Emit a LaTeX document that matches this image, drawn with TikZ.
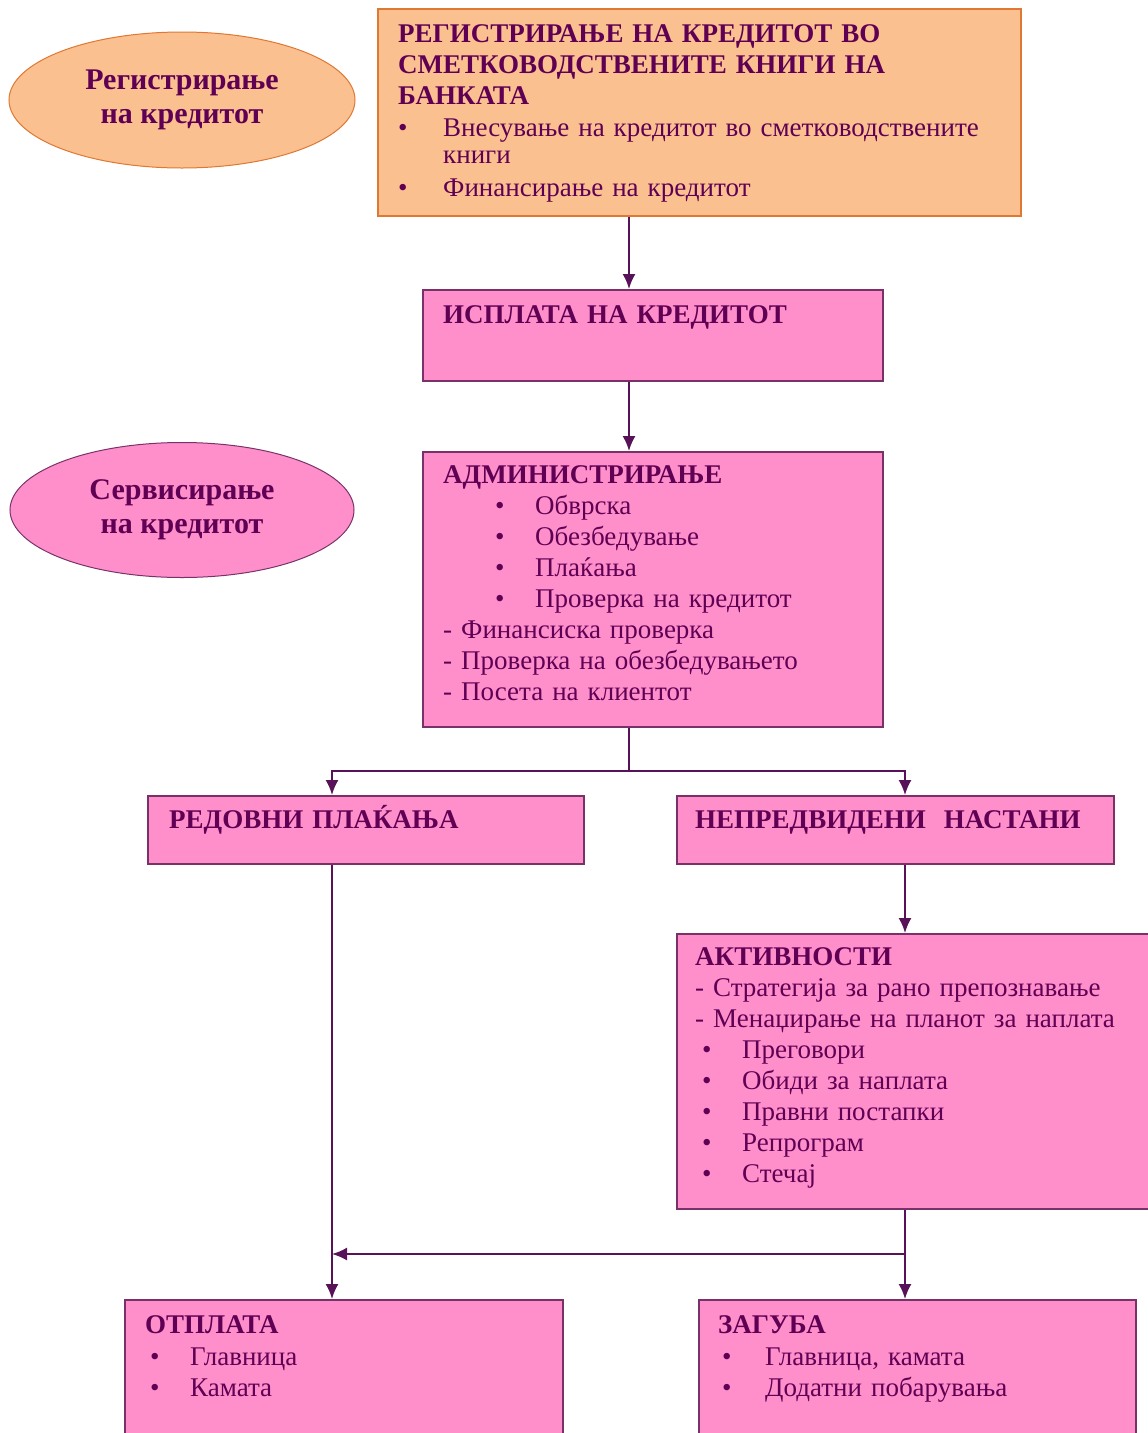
\documentclass[tikz,border=0pt]{standalone}
\usepackage{fontspec}
\setmainfont{Liberation Serif}
\usetikzlibrary{shapes.geometric,arrows.meta,positioning}

\definecolor{orangefill}{RGB}{250,192,143}
\definecolor{orangeline}{RGB}{222,120,50}
\definecolor{pinkfill}{RGB}{255,143,203}
\definecolor{boxline}{RGB}{120,50,105}
\definecolor{arrowcol}{RGB}{88,18,88}
\definecolor{ink}{RGB}{96,0,84}

\newcommand{\boxfont}{\fontsize{27}{31}\selectfont}
\newcommand{\ovalfont}{\fontsize{30}{34}\selectfont\bfseries}
\newcommand{\bitem}[3]{\hspace*{#1}\makebox[#2][l]{•}#3}

\begin{document}
\begin{tikzpicture}[
  x=1pt, y=1pt,
  box/.style={rectangle, draw=boxline, fill=pinkfill, line width=1.6pt, anchor=north west, inner sep=0pt},
  obox/.style={box, draw=orangeline, fill=orangefill},
  oval/.style={ellipse, draw=boxline, fill=pinkfill, line width=1pt, inner sep=0pt, align=center, text=ink, font=\ovalfont},
  txt/.style={anchor=base west, inner sep=0pt, text width=600pt, align=left, text=ink, font=\boxfont},
  arr/.style={draw=arrowcol, line width=1.9pt, -{Latex[length=15pt,width=13pt]}},
  link/.style={draw=arrowcol, line width=1.9pt}
]
\useasboundingbox (0,0) rectangle (1148,-1433);
\clip (0,0) rectangle (1148,-1433);

\coordinate (mid) at (629,0);
\coordinate (lcol) at (332,0);
\coordinate (rcol) at (905,0);

% ellipses on the left
\node[oval, draw=orangeline, fill=orangefill, minimum width=346pt, minimum height=136pt] (regoval) at (182,-100) {Регистрирање\\на кредитот};
\node[oval, minimum width=344pt, minimum height=135pt] (servoval) at (182,-510) {Сервисирање\\на кредитот};

% boxes
\node[obox, minimum width=643pt, minimum height=207pt] (reg) at (377,-8) {};
\node[box, minimum width=460pt, minimum height=91pt] (isp) at (422,-289) {};
\node[box, minimum width=460pt, minimum height=275pt] (adm) at (422,-451) {};
\node[box, minimum width=436pt, minimum height=68pt] (red) at (147,-795) {};
\node[box, minimum width=437pt, minimum height=68pt] (nep) at (676,-795) {};
\node[box, minimum width=490pt, minimum height=275pt] (akt) at (676,-933) {};
\node[box, minimum width=438pt, minimum height=160pt] (otp) at (124,-1299) {};
\node[box, minimum width=437pt, minimum height=160pt] (zag) at (698,-1299) {};

% box texts
\node[txt] (regtext) at (398,-42) {\textbf{РЕГИСТРИРАЊЕ НА КРЕДИТОТ ВО}\\
  \textbf{СМЕТКОВОДСТВЕНИТЕ КНИГИ НА}\\
  \textbf{БАНКАТА}\\[1pt]
  \bitem{0pt}{45pt}{Внесување на кредитот во сметководствените}\\[-4pt]
  \hspace*{45pt}книги\\[2pt]
  \bitem{0pt}{45pt}{Финансирање на кредитот}};
\node[txt] (isptext) at (443,-323) {\textbf{ИСПЛАТА НА КРЕДИТОТ}};
\node[txt] (admtext) at (443,-483) {\textbf{АДМИНИСТРИРАЊЕ}\\
  \bitem{52pt}{40pt}{Обврска}\\
  \bitem{52pt}{40pt}{Обезбедување}\\
  \bitem{52pt}{40pt}{Плаќања}\\
  \bitem{52pt}{40pt}{Проверка на кредитот}\\
  - Финансиска проверка\\
  - Проверка на обезбедувањето\\
  - Посета на клиентот};
\node[txt] (redtext) at (169,-828) {\textbf{РЕДОВНИ ПЛАЌАЊА}};
\node[txt] (neptext) at (695,-828) {\textbf{НЕПРЕДВИДЕНИ\ \ НАСТАНИ}};
\node[txt] (akttext) at (695,-965) {\textbf{АКТИВНОСТИ}\\
  - Стратегија за рано препознавање\\
  - Менаџирање на планот за наплата\\
  \bitem{7pt}{40pt}{Преговори}\\
  \bitem{7pt}{40pt}{Обиди за наплата}\\
  \bitem{7pt}{40pt}{Правни постапки}\\
  \bitem{7pt}{40pt}{Репрограм}\\
  \bitem{7pt}{40pt}{Стечај}};
\node[txt] (otptext) at (145,-1333) {\textbf{ОТПЛАТА}\\[1pt]
  \bitem{5pt}{40pt}{Главница}\\
  \bitem{5pt}{40pt}{Камата}};
\node[txt] (zagtext) at (718,-1333) {\textbf{ЗАГУБА}\\[1pt]
  \bitem{4pt}{43pt}{Главница, камата}\\
  \bitem{4pt}{43pt}{Додатни побарувања}};

% connectors
\coordinate (split) at (629,-771);
\coordinate (join) at (905,-1254);
\draw[arr] (reg.south -| mid) -- (isp.north -| mid);
\draw[arr] (isp.south -| mid) -- (adm.north -| mid);
\draw[link] (adm.south -| mid) -- (split);
\draw[arr] (split) -| (red.north -| lcol);
\draw[arr] (split) -| (nep.north -| rcol);
\draw[arr] (nep.south -| rcol) -- (akt.north -| rcol);
\draw[arr] (red.south -| lcol) -- (otp.north -| lcol);
\draw[arr] (akt.south -| rcol) -- (zag.north -| rcol);
\draw[arr] (join) -- (join -| lcol);
\end{tikzpicture}
\end{document}
